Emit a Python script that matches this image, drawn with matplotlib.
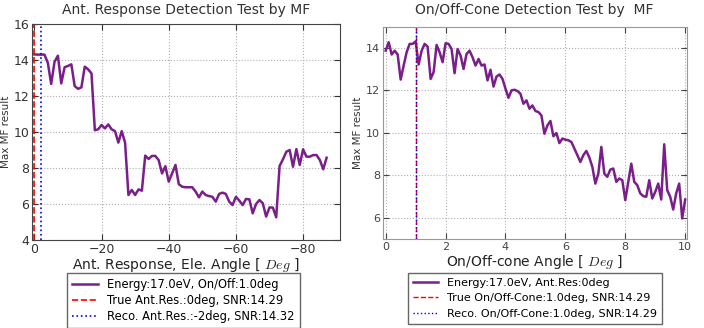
import numpy as np
import matplotlib
matplotlib.use('Agg')
import matplotlib.pyplot as plt

plt.rcParams['mathtext.fontset'] = 'cm'

#### Data
# left panel: antenna response elevation angle [deg]
ant_angle = np.arange(0, -88, -1)
ant_mf = [14.31, 14.3, 14.3, 14.3, 13.85, 12.67, 13.9, 14.24, 12.7, 13.6,
          13.67, 13.76, 12.55, 12.4, 12.48, 13.63, 13.48, 13.26, 10.1, 10.15,
          10.39, 10.2, 10.42, 10.15, 10.05, 9.41, 10.05, 9.41, 6.5, 6.78,
          6.5, 6.81, 6.74, 8.69, 8.5, 8.67, 8.67, 8.44, 7.7, 8.1,
          7.24, 7.7, 8.17, 7.1, 6.96, 6.93, 6.93, 6.93, 6.69, 6.37,
          6.69, 6.5, 6.44, 6.4, 6.13, 6.56, 6.63, 6.56, 6.13, 5.94,
          6.4, 6.19, 5.94, 6.28, 6.26, 5.48, 6.0, 6.22, 6.04, 5.3,
          5.81, 5.8, 5.26, 8.11, 8.48, 8.9, 9.0, 8.07, 9.05, 8.17,
          9.04, 8.63, 8.63, 8.72, 8.72, 8.44, 7.93, 8.57]
ant_true = 0
ant_reco = -2

# right panel: on/off-cone angle [deg]
cone_angle = np.round(np.arange(0, 10.05, 0.1), 1)
cone_mf = [13.87, 14.27, 13.69, 13.87, 13.69, 12.51, 13.17, 13.8, 14.19, 14.19,
           14.31, 13.22, 13.87, 14.19, 14.06, 12.54, 12.86, 14.14, 13.8, 13.33,
           14.22, 14.19, 13.95, 12.81, 13.95, 13.64, 13.01, 13.72, 13.87, 13.56,
           13.17, 13.48, 13.17, 13.22, 12.47, 12.97, 12.18, 12.65, 12.75, 12.54,
           12.08, 11.65, 12.0, 12.03, 11.97, 11.84, 11.37, 11.53, 11.14, 11.29,
           11.03, 10.98, 10.82, 9.96, 10.35, 10.56, 9.84, 9.99, 9.52, 9.73,
           9.68, 9.65, 9.57, 9.26, 8.95, 8.63, 8.95, 9.15, 8.84, 8.4,
           7.61, 8.08, 9.34, 8.08, 7.93, 8.27, 8.32, 7.69, 7.85, 7.77,
           6.83, 7.69, 8.55, 7.69, 7.54, 7.15, 7.02, 6.99, 7.77, 6.91,
           7.22, 7.61, 6.86, 9.46, 7.3, 6.99, 6.39, 7.15, 7.61, 5.97,
           6.86]
cone_true = 1.0
cone_reco = 1.0

line_col = '#7a1f8a'

fig = plt.figure(figsize=(7.04, 3.28), dpi=100)

####Left panel
ax1 = fig.add_axes([0.0455, 0.2683, 0.4375, 0.6585])
ax1.plot(ant_angle, ant_mf, color=line_col, lw=1.8, label='Energy:17.0eV, On/Off:1.0deg')
ax1.axvline(ant_true, color='r', ls='--', lw=1.2, label='True Ant.Res.:0deg, SNR:14.29')
ax1.axvline(ant_reco, color='b', ls=':', lw=1.2, label='Reco. Ant.Res.:-2deg, SNR:14.32')
ax1.set_xlim(0.7, -91)
ax1.set_ylim(4, 16)
ax1.set_xticks([0, -20, -40, -60, -80])
ax1.set_yticks([4, 6, 8, 10, 12, 14, 16])
ax1.set_xticklabels(['0', '\u221220', '\u221240', '\u221260', '\u221280'])
ax1.grid(True, ls=':', color='#b0b0b0', lw=0.8)
ax1.tick_params(labelsize=9, colors='#333333', direction='in', top=True, right=True, length=4, pad=2)
for sp in ax1.spines.values():
    sp.set_color('#444444')
ax1.set_title('Ant. Response Detection Test by MF', fontsize=10, color='#333333', pad=7)
ax1.set_xlabel('Ant. Response, Ele. Angle [ $Deg$ ]', fontsize=10, color='#222222', labelpad=0)
ax1.set_ylabel('Max MF result', fontsize=7.5, color='#333333', labelpad=2)
ax1.legend(loc='upper center', bbox_to_anchor=(0.2607, 0.186), bbox_transform=fig.transFigure,
           fontsize=8.3, fancybox=False, edgecolor='#666666', framealpha=1,
           borderpad=0.45, labelspacing=0.25, handlelength=2.2)

####Right panel
ax2 = fig.add_axes([0.5436, 0.2713, 0.4318, 0.6473])
ax2.plot(cone_angle, cone_mf, color=line_col, lw=1.8, label='Energy:17.0eV, Ant.Res:0deg')
ax2.axvline(cone_true, color='r', ls='--', lw=1.0, label='True On/Off-Cone:1.0deg, SNR:14.29')
ax2.axvline(cone_reco, color='b', ls=':', lw=1.0, label='Reco. On/Off-Cone:1.0deg, SNR:14.29')
ax2.set_xlim(-0.1, 10.05)
ax2.set_ylim(5, 15)
ax2.set_xticks([0, 2, 4, 6, 8, 10])
ax2.set_yticks([6, 8, 10, 12, 14])
ax2.grid(True, ls=':', color='#b0b0b0', lw=0.8)
ax2.tick_params(labelsize=8, colors='#444444', direction='in', top=True, right=True, length=4, pad=2)
for sp in ax2.spines.values():
    sp.set_color('#999999')
ax2.set_title('On/Off-Cone Detection Test by  MF', fontsize=10, color='#333333', pad=9)
ax2.set_xlabel('On/Off-cone Angle [ $Deg$ ]', fontsize=10, color='#222222', labelpad=1)
ax2.set_ylabel('Max MF result', fontsize=7.5, color='#333333', labelpad=2)
ax2.legend(loc='upper center', bbox_to_anchor=(0.76, 0.186), bbox_transform=fig.transFigure,
           fontsize=8, fancybox=False, edgecolor='#666666', framealpha=1,
           borderpad=0.45, labelspacing=0.5, handlelength=2.2)

plt.savefig('out.png', dpi=100)
plt.close()
